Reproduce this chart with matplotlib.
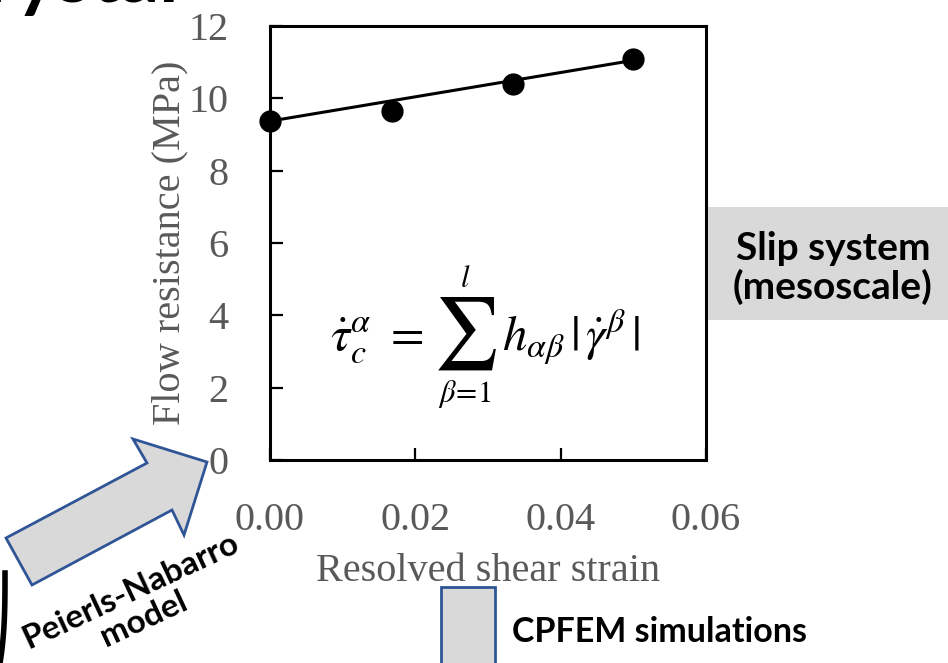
import matplotlib
matplotlib.use("Agg")
import matplotlib.pyplot as plt
from matplotlib.patches import Polygon, Rectangle
import numpy as np

# data
strain = [0.0, 0.0168, 0.0334, 0.0500]
flow_resistance = [9.37, 9.65, 10.40, 11.09]
fit_strain = [0.0, 0.0500]
fit_resistance = [9.37, 11.05]

x_ticks = [0.00, 0.02, 0.04, 0.06]
y_ticks = [0, 2, 4, 6, 8, 10, 12]

W, H = 948, 663
GRAY = "#595959"
BOX = "#d9d9d9"
BLUE = "#2f5597"
SERIF = "Liberation Serif"
SANS = "Lato"

plt.rcParams["mathtext.fontset"] = "stix"


def fx(px):
    return px / W


def fy(py):
    return 1 - py / H


fig = plt.figure(figsize=(W / 100, H / 100), dpi=100)
ax = fig.add_axes([fx(270), fy(460), fx(706) - fx(270), fy(26) - fy(460)])

ax.plot(fit_strain, fit_resistance, color="black", linewidth=2.2, zorder=2)
ax.plot(strain, flow_resistance, "o", color="black", markersize=15, zorder=3, clip_on=False)

ax.set_xlim(0, 0.06)
ax.set_ylim(0, 12)
ax.set_xticks(x_ticks)
ax.set_xticklabels([f"{v:.2f}" for v in x_ticks])
ax.set_yticks(y_ticks)
ax.tick_params(direction="in", length=9, width=1.6, colors="black", labelcolor=GRAY,
               labelsize=29, pad=30)
for lab in ax.get_xticklabels() + ax.get_yticklabels():
    lab.set_family(SERIF)
for s in ax.spines.values():
    s.set_linewidth(2.2)

ax.set_xlabel("Resolved shear strain", fontsize=29, family=SERIF, color=GRAY, labelpad=10)
ax.set_ylabel("Flow resistance (MPa)", fontsize=29, family=SERIF, color=GRAY, labelpad=0)

# flow rule, built from pieces so the sum sign gets display size
fig.text(fx(330), fy(350), r"$\dot{\tau}_c^{\alpha}\ =$", ha="left", va="baseline", fontsize=35)
fig.text(fx(465), fy(334), r"$\sum$", ha="center", va="center", fontsize=52)
fig.text(fx(465), fy(287), r"$l$", ha="center", va="baseline", fontsize=22)
fig.text(fx(465), fy(402), r"$\beta\!=\!1$", ha="center", va="baseline", fontsize=22)
fig.text(fx(502), fy(350), r"$h_{\alpha\beta}\,|\,\dot{\gamma}^{\beta}\,|$", ha="left",
         va="baseline", fontsize=35)

# slide decorations
fig.patches.append(Rectangle((fx(708), fy(320)), fx(948) - fx(708), fy(207) - fy(320),
                             transform=fig.transFigure, facecolor=BOX, edgecolor="none", zorder=0))
fig.text(fx(833), fy(268), "Slip system\n(mesoscale)", ha="center", va="center",
         fontsize=28, fontweight="bold", family=SANS, linespacing=1.1)

fig.patches.append(Rectangle((fx(441), fy(670)), fx(495) - fx(441), fy(587) - fy(670),
                             transform=fig.transFigure, facecolor=BOX, edgecolor=BLUE,
                             linewidth=2, zorder=0))
fig.text(fx(512), fy(632), "CPFEM simulations", ha="left", va="center",
         fontsize=24.5, fontweight="bold", family=SANS)

arrow_px = [(6, 538), (147, 463), (133, 439), (207, 462), (184, 535), (172, 510), (32, 585)]
fig.patches.append(Polygon([(fx(x), fy(y)) for x, y in arrow_px], closed=True,
                           transform=fig.transFigure, facecolor=BOX, edgecolor=BLUE,
                           linewidth=2, zorder=1))
fig.text(fx(137), fy(605), "Peierls-Nabarro\nmodel", ha="center", va="center",
         rotation=25, rotation_mode="anchor", fontsize=24, fontweight="bold", family=SANS,
         linespacing=1.1)

fig.text(fx(178), fy(2), "Crystal", ha="right", va="baseline", fontsize=56,
         fontweight="bold", family=SANS)

t = np.linspace(0, 1, 30)
fig.add_artist(plt.Line2D(fx(5 - 5 * (1 - t) ** 3), fy(663 - 90 * t), color="black",
                          linewidth=4, transform=fig.transFigure))

fig.savefig("out.png", dpi=100)
